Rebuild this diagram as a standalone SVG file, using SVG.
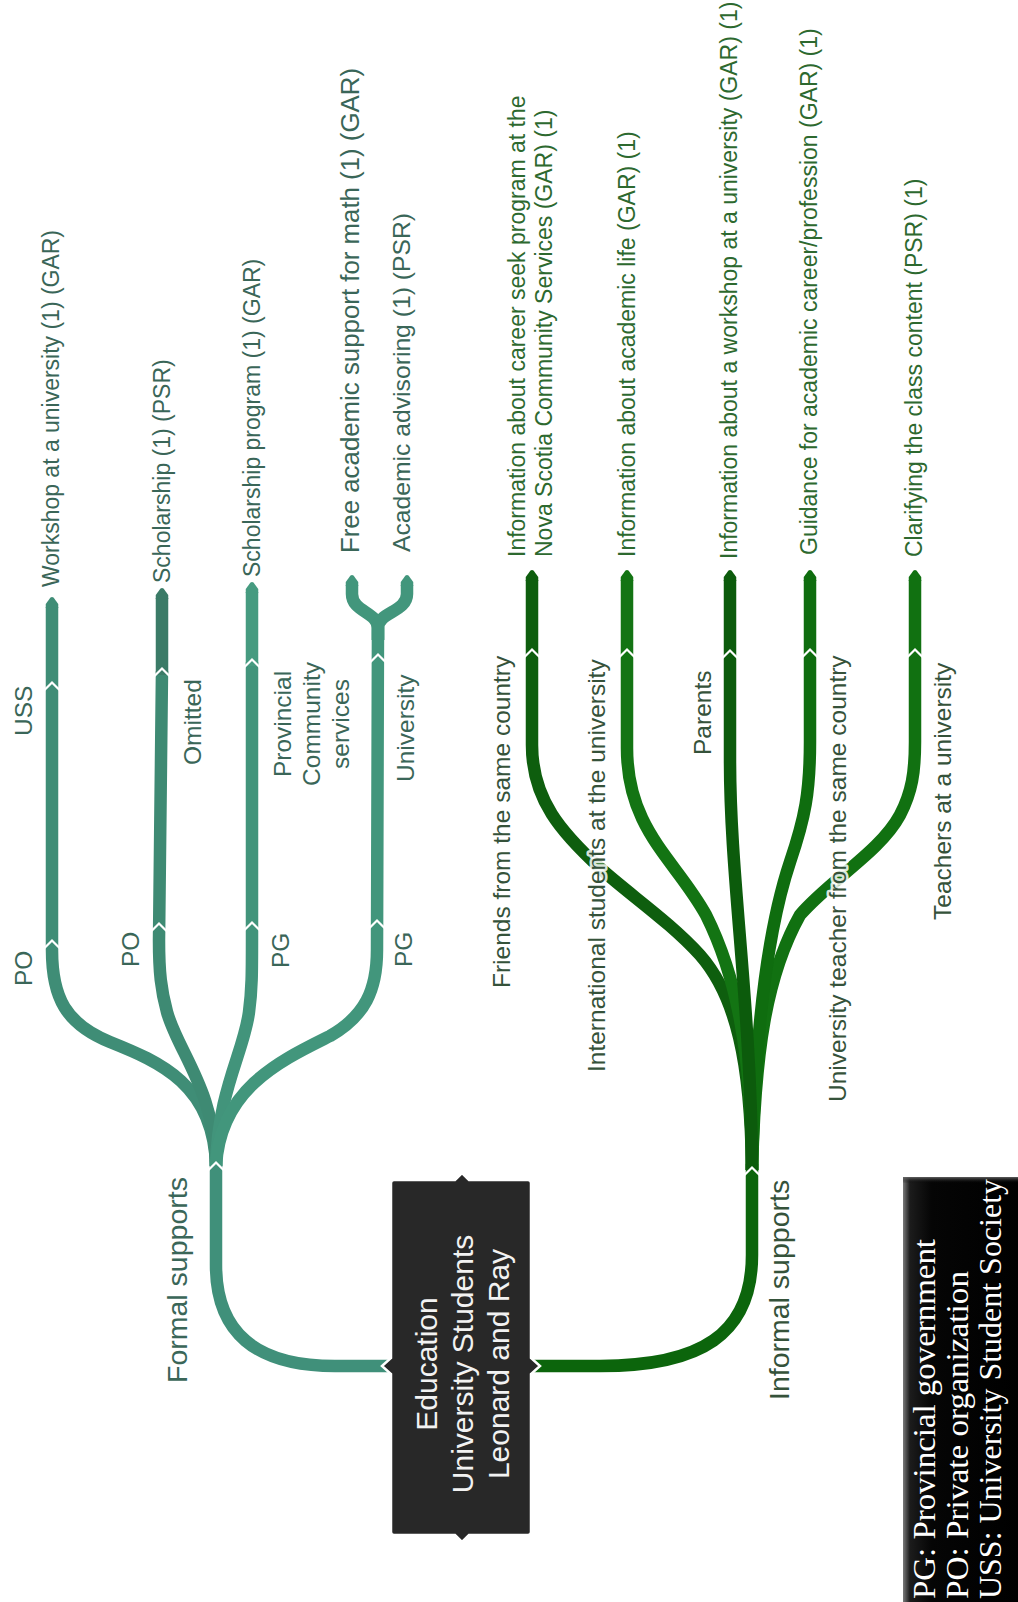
<svg xmlns="http://www.w3.org/2000/svg" xmlns:xlink="http://www.w3.org/1999/xlink" width="1018" height="1602" viewBox="0 0 1018 1602">
  <style>
    .lnk { fill: none; stroke: currentColor; stroke-width: 12.5; stroke-linecap: butt; stroke-linejoin: round; }
    .tipf { fill: currentColor; stroke: none; }
    .f0 { color: #40907a; }
    .f1 { color: #3f8d76; }
    .f2 { color: #3e8a73; }
    .f2b { color: #3b7b67; }
    .f3 { color: #42947b; }
    .f3b { color: #469b80; }
    .f4 { color: #42967c; }
    .i0 { color: #0c650c; }
    .i1 { color: #0e5e0e; }
    .i2 { color: #137413; }
    .i3 { color: #0c5b0c; }
    .i4 { color: #0f6d0f; }
    .i5 { color: #117111; }
    .chev { fill: none; stroke: #ffffff; stroke-width: 2.2; stroke-linejoin: miter; }
    .lbl { font-family: "Liberation Sans", Arial, sans-serif; font-size: 24.5px;
           paint-order: stroke; stroke: #ffffff; stroke-width: 5; stroke-opacity: 0.85; stroke-linejoin: round; }
    .top { font-size: 23px; }
    .fl { fill: #3a6658; }
    .il { fill: #35523a; }
    .it { fill: #2d692f; }
    .main { font-size: 28.5px; }
    .box { fill: #282828; stroke: #ffffff; stroke-width: 2.5; stroke-linejoin: miter; }
    .boxtxt { font-family: "Liberation Sans", Arial, sans-serif; font-size: 30px; fill: #f2f2f2; text-anchor: middle; }
    .legtxt { font-family: "Liberation Serif", "Times New Roman", serif; font-size: 32.5px; fill: #ffffff; }
  </style>
  <defs>
    <!-- pointed end of a branch, apex at the origin, pointing up -->
    <path id="tip" d="M-6.25,11 L-6.25,7 L-1.5,0.6 Q0,-0.6 1.5,0.6 L6.25,7 L6.25,11 Z"/>
    <!-- white cut between two chained segments -->
    <polyline id="cut" points="-7.5,5 0,-2.5 7.5,5"/>
    <linearGradient id="legShadeX" x1="0" y1="0" x2="1" y2="0">
      <stop offset="0" stop-color="#7a7a7a"/>
      <stop offset="0.06" stop-color="#1c1c1c"/>
      <stop offset="0.25" stop-color="#050505"/>
      <stop offset="1" stop-color="#000000"/>
    </linearGradient>
    <linearGradient id="legShadeY" x1="0" y1="0" x2="0" y2="1">
      <stop offset="0" stop-color="#6a6a6a" stop-opacity="0.9"/>
      <stop offset="0.015" stop-color="#000000" stop-opacity="0"/>
    </linearGradient>
  </defs>

  <g id="connectors">
    <!-- formal supports trunk and branches -->
    <path class="lnk f0" d="M391,1366 L335,1366 C255,1366 216,1332 216,1265 L216,1160"/>
    <path class="lnk f1" d="M216,1166 C214,1085 160,1062 110,1042 C66,1024 52,998 52,950 L52,607"/>
    <path class="lnk f2" d="M216,1166 C215,1090 178,1052 167,1012 C161,990 159,972 159,940 L162,671"/>
    <path class="lnk f2b" d="M162,675 L162,598"/>
    <path class="lnk f3" d="M216,1166 C218,1090 244,1052 249,1012 C252,990 252,972 252,940 L252,662"/>
    <path class="lnk f3b" d="M252,666 L252,592"/>
    <path class="lnk f4" d="M216,1166 C220,1088 282,1060 330,1036 C365,1016 377,990 377,950 L378,622"/>
    <path class="lnk f4" d="M378,640 L378,628 C378,612 352,612 352,594 L352,585"/>
    <path class="lnk f4" d="M378,640 L378,628 C378,612 407,612 407,594 L407,585"/>
    <use href="#tip" class="tipf f1" x="52" y="597"/>
    <use href="#tip" class="tipf f2b" x="162" y="588"/>
    <use href="#tip" class="tipf f3b" x="252" y="582"/>
    <use href="#tip" class="tipf f4" x="352" y="575"/>
    <use href="#tip" class="tipf f4" x="407" y="575"/>

    <!-- informal supports trunk and branches -->
    <path class="lnk i0" d="M531,1366 L600,1366 C700,1366 752,1335 752,1255 L752,1164"/>
    <path class="lnk i1" d="M752,1170 C751,1062 736,996 700,955 C670,922 630,895 600,868 C562,833 532,800 532,745 L532,580"/>
    <path class="lnk i2" d="M752,1170 C752,1052 736,975 706,915 C676,860 627,830 627,748 L627,580"/>
    <path class="lnk i5" d="M752,1170 C755,1052 766,976 800,915 C830,880 880,852 900,815 C912,792 915,772 915,742 L915,580"/>
    <path class="lnk i4" d="M752,1170 C755,1020 770,922 790,862 C805,818 810,792 810,742 L810,580"/>
    <path class="lnk i3" d="M752,1170 C751,1000 730,880 730,760 L730,580"/>
    <use href="#tip" class="tipf i1" x="532" y="570"/>
    <use href="#tip" class="tipf i2" x="627" y="570"/>
    <use href="#tip" class="tipf i3" x="730" y="570"/>
    <use href="#tip" class="tipf i4" x="810" y="570"/>
    <use href="#tip" class="tipf i5" x="915" y="570"/>

    <!-- joints between chained segments -->
    <use href="#cut" class="chev" x="216" y="1165"/>
    <use href="#cut" class="chev" x="52" y="943"/>
    <use href="#cut" class="chev" x="52" y="685"/>
    <use href="#cut" class="chev" x="159" y="926"/>
    <use href="#cut" class="chev" x="162" y="671"/>
    <use href="#cut" class="chev" x="252" y="925"/>
    <use href="#cut" class="chev" x="252" y="662"/>
    <use href="#cut" class="chev" x="377" y="923"/>
    <use href="#cut" class="chev" x="378" y="657"/>
    <use href="#cut" class="chev" x="752" y="1170"/>
    <use href="#cut" class="chev" x="532" y="652"/>
    <use href="#cut" class="chev" x="627" y="652"/>
    <use href="#cut" class="chev" x="730" y="653"/>
    <use href="#cut" class="chev" x="810" y="652"/>
    <use href="#cut" class="chev" x="915" y="652"/>
  </g>

  <g id="root">
    <path class="box" d="M394,1180 L455,1180 L462,1173 L469,1180 L528,1180 Q531,1180 531,1183 L531,1358 L540,1366 L531,1374 L531,1532 Q531,1535 528,1535 L469,1535 L462,1542 L455,1535 L394,1535 Q391,1535 391,1532 L391,1374 L382,1366 L391,1358 L391,1183 Q391,1180 394,1180 Z"/>
    <text class="boxtxt" transform="translate(437,1364) rotate(-90)">Education</text>
    <text class="boxtxt" transform="translate(473,1364) rotate(-90)">University Students</text>
    <text class="boxtxt" transform="translate(509,1364) rotate(-90)">Leonard and Ray</text>
  </g>

  <g id="formal">
    <text class="lbl main fl" transform="translate(187,1383) rotate(-90)">Formal supports</text>
  </g>
  <g id="formal-po1">
    <text class="lbl fl" transform="translate(32,986) rotate(-90)">PO</text>
  </g>
  <g id="formal-uss">
    <text class="lbl fl" transform="translate(32,736) rotate(-90)">USS</text>
  </g>
  <g id="formal-workshop">
    <text class="lbl top fl" transform="translate(59,587) rotate(-90)" textLength="357" lengthAdjust="spacingAndGlyphs">Workshop at a university (1) (GAR)</text>
  </g>
  <g id="formal-po2">
    <text class="lbl fl" transform="translate(139,967) rotate(-90)">PO</text>
  </g>
  <g id="formal-omitted">
    <text class="lbl fl" transform="translate(201,765) rotate(-90)">Omitted</text>
  </g>
  <g id="formal-scholarship">
    <text class="lbl top fl" transform="translate(170,583) rotate(-90)">Scholarship (1) (PSR)</text>
  </g>
  <g id="formal-pg1">
    <text class="lbl fl" transform="translate(289,968) rotate(-90)">PG</text>
  </g>
  <g id="formal-pcs">
    <text class="lbl fl" text-anchor="middle" transform="translate(291,724) rotate(-90)">Provincial</text>
    <text class="lbl fl" text-anchor="middle" transform="translate(320,724) rotate(-90)">Community</text>
    <text class="lbl fl" text-anchor="middle" transform="translate(349,724) rotate(-90)">services</text>
  </g>
  <g id="formal-scholarship-program">
    <text class="lbl top fl" transform="translate(260,577) rotate(-90)">Scholarship program (1) (GAR)</text>
  </g>
  <g id="formal-pg2">
    <text class="lbl fl" transform="translate(412,967) rotate(-90)">PG</text>
  </g>
  <g id="formal-university">
    <text class="lbl fl" transform="translate(414,782) rotate(-90)">University</text>
  </g>
  <g id="formal-math">
    <text class="lbl fl" style="font-size:25.5px" transform="translate(359,553) rotate(-90)" textLength="485" lengthAdjust="spacingAndGlyphs">Free academic support for math (1) (GAR)</text>
  </g>
  <g id="formal-advising">
    <text class="lbl fl" transform="translate(410,552) rotate(-90)" textLength="339" lengthAdjust="spacingAndGlyphs">Academic advisoring (1) (PSR)</text>
  </g>

  <g id="informal">
    <text class="lbl main il" transform="translate(789,1400) rotate(-90)">Informal supports</text>
  </g>
  <g id="informal-friends">
    <text class="lbl il" transform="translate(510,988) rotate(-90)">Friends from the same country</text>
  </g>
  <g id="informal-friends-info">
    <text class="lbl top it" transform="translate(525,557) rotate(-90)">Information about career seek program at the</text>
    <text class="lbl top it" transform="translate(552,557) rotate(-90)">Nova Scotia Community Services (GAR) (1)</text>
  </g>
  <g id="informal-intl">
    <text class="lbl il" transform="translate(605,1072) rotate(-90)">International students at the university</text>
  </g>
  <g id="informal-intl-info">
    <text class="lbl top it" transform="translate(635,557) rotate(-90)">Information about academic life (GAR) (1)</text>
  </g>
  <g id="informal-parents">
    <text class="lbl il" transform="translate(711,755) rotate(-90)">Parents</text>
  </g>
  <g id="informal-parents-info">
    <text class="lbl top it" transform="translate(737,559) rotate(-90)">Information about a workshop at a university (GAR) (1)</text>
  </g>
  <g id="informal-uteacher">
    <text class="lbl il" transform="translate(846,1102) rotate(-90)">University teacher from the same country</text>
  </g>
  <g id="informal-uteacher-info">
    <text class="lbl top it" transform="translate(817,555) rotate(-90)">Guidance for academic career/profession (GAR) (1)</text>
  </g>
  <g id="informal-teachers">
    <text class="lbl il" transform="translate(951,920) rotate(-90)">Teachers at a university</text>
  </g>
  <g id="informal-teachers-info">
    <text class="lbl top it" transform="translate(922,557) rotate(-90)">Clarifying the class content (PSR) (1)</text>
  </g>

  <g id="legend">
    <rect x="903" y="1177" width="115" height="425" fill="url(#legShadeX)"/>
    <rect x="903" y="1177" width="115" height="425" fill="url(#legShadeY)"/>
    <text class="legtxt" transform="translate(935,1599) rotate(-90)" textLength="360" lengthAdjust="spacingAndGlyphs">PG: Provincial government</text>
    <text class="legtxt" transform="translate(968,1599) rotate(-90)" textLength="328" lengthAdjust="spacingAndGlyphs">PO: Private organization</text>
    <text class="legtxt" transform="translate(1001,1599) rotate(-90)" textLength="420" lengthAdjust="spacingAndGlyphs">USS: University Student Society</text>
  </g>
</svg>
